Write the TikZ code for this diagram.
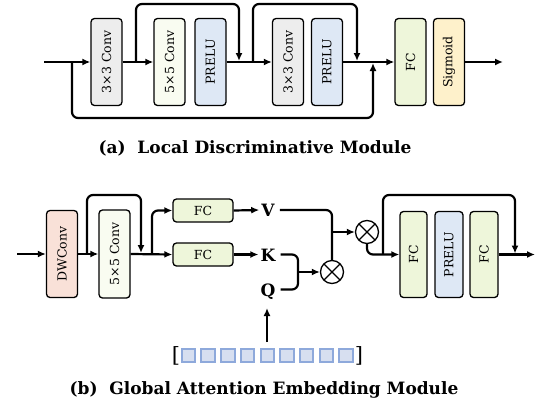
\documentclass[tikz,border=0pt]{standalone}
\usepackage{fontspec}
\setmainfont{DejaVu Serif}
\usetikzlibrary{arrows.meta}
\definecolor{cgray}{HTML}{EDEDED}
\definecolor{cwhite}{HTML}{F9FCF1}
\definecolor{cblue}{HTML}{DEE8F5}
\definecolor{cgreen}{HTML}{EEF6DA}
\definecolor{cyellow}{HTML}{FEF1CB}
\definecolor{csalmon}{HTML}{F9E1D8}
\definecolor{ctok}{HTML}{D7DFF0}
\definecolor{ctokb}{HTML}{8EA9DB}
\tikzset{
  blk/.style={draw=black, line width=1.3pt, rounded corners=3.5pt, minimum width=31pt, minimum height=87pt, inner sep=0pt, font=\fontsize{12.5}{14}\selectfont},
  fcs/.style={draw=black, line width=1.3pt, rounded corners=3.5pt, minimum width=60pt, minimum height=23pt, inner sep=0pt, fill=cgreen, font=\fontsize{12.5}{14}\selectfont},
  vkq/.style={inner sep=2pt, text height=13pt, text depth=0pt, font=\bfseries\fontsize{17}{20}\selectfont},
  otimes/.style={draw=black, circle, line width=1.3pt, minimum size=23pt, inner sep=0pt, fill=white,
    path picture={\draw[line width=1.3pt] (path picture bounding box.north west) -- (path picture bounding box.south east)
      (path picture bounding box.north east) -- (path picture bounding box.south west);}},
  ln/.style={line width=2.2pt, rounded corners=6pt},
  arr/.style={ln, -{Latex[length=8pt,width=7pt]}},
  tok/.style={draw=ctokb, fill=ctok, line width=2pt, minimum size=13.5pt, inner sep=0pt},
  captxt/.style={font=\bfseries\fontsize{17}{20}\selectfont},
}
\begin{document}
\begin{tikzpicture}[x=1pt,y=-1pt]
\useasboundingbox (0,0) rectangle (540,407);
% ---------- (a)
\node[blk, fill=cgray] (a1) at (106.5,62) {\rotatebox{90}{3×3 Conv}};
\node[blk, fill=cwhite] (a2) at (169.5,62) {\rotatebox{90}{5×5 Conv}};
\node[blk, fill=cblue] (a3) at (210.5,62) {\rotatebox{90}{PRELU}};
\node[blk, fill=cgray] (a4) at (288,62) {\rotatebox{90}{3×3 Conv}};
\node[blk, fill=cblue] (a5) at (327,62) {\rotatebox{90}{PRELU}};
\node[blk, fill=cgreen] (a6) at (410.5,62) {\rotatebox{90}{FC}};
\node[blk, fill=cyellow] (a7) at (449,62) {\rotatebox{90}{Sigmoid}};
\coordinate (ain) at (44,62);
\coordinate (aout) at (503,62);
\coordinate (s1a) at (136,62);
\coordinate (s1b) at (239,61);
\coordinate (s2a) at (253,62);
\coordinate (s2b) at (357,61);
\coordinate (l1) at (72,62);
\coordinate (l2) at (373,63);
\draw[arr] (ain) -- (a1.west);
\draw[arr] (a1.east) -- (a2.west);
\draw[arr] (a3.east) -- (a4.west);
\draw[arr] (a5.east) -- (a6.west);
\draw[arr] (a7.east) -- (aout);
\draw[arr] (s1a) -- (136,4) -| (s1b);
\draw[arr] (s2a) -- (253,4) -| (s2b);
\draw[arr] (l1) -- (72,118) -| (l2);
\node[captxt] (capa) at (255,148) {(a)~~Local Discriminative Module};
% ---------- (b)
\node[blk, fill=csalmon] (b1) at (62,254) {\rotatebox{90}{DWConv}};
\node[blk, fill=cwhite, minimum height=88pt] (b2) at (114.5,254) {\rotatebox{90}{5×5 Conv}};
\node[fcs] (b3) at (203,210.5) {FC};
\node[fcs] (b4) at (203,254.5) {FC};
\node[vkq] (v) at (268,210) {V};
\node[vkq] (k) at (268,254.5) {K};
\node[vkq] (q) at (268,289.5) {Q};
\node[otimes] (m1) at (367,232) {};
\node[otimes] (m2) at (332,272) {};
\node[blk, fill=cgreen, minimum width=27pt, minimum height=86pt] (b5) at (413.5,254.5) {\rotatebox{90}{FC}};
\node[blk, fill=cblue, minimum width=28pt, minimum height=86pt] (b6) at (449,254.5) {\rotatebox{90}{PRELU}};
\node[blk, fill=cgreen, minimum width=28pt, minimum height=86pt] (b7) at (484,254.5) {\rotatebox{90}{FC}};
\coordinate (bin) at (17,254);
\coordinate (bs1) at (87,254);
\coordinate (bs2) at (141,253);
\coordinate (br) at (152,254);
\coordinate (vb) at (332,232);
\coordinate (kq) at (298,272);
\coordinate (bs3) at (383,254.5);
\coordinate (bs4) at (515,253.5);
\coordinate (bout) at (535,254.5);
\coordinate (tk) at (267,342);
\coordinate (qin) at (267,308);
\draw[arr] (bin) -- (b1.west);
\draw[arr] (b1.east) -- (b2.west);
\draw[arr] (bs1) -- (87,195) -| (bs2);
\draw[arr] (b2.east) -- (b4.west);
\draw[arr] (br) |- (b3.west);
\draw[arr] (b3.east) -- (v.west);
\draw[arr] (b4.east) -- (k.west);
\draw[ln] ([xshift=3pt]v.east) -| (m2.north);
\draw[arr] (vb) -- (m1.west);
\draw[ln] ([xshift=3pt]k.east) -| (kq) |- ([xshift=3pt]q.east);
\draw[arr] (kq) -- (m2.west);
\draw[arr] (m1.south) |- (b5.west);
\draw[arr] (bs3) -- (383,195) -| (bs4);
\draw[arr] (b7.east) -- (bout);
\draw[arr] (tk) -- (qin);
\foreach \i in {0,...,8} \node[tok] (t\i) at ({188.5+19.7*\i},355.5) {};
\node[font=\fontsize{21}{23}\selectfont, inner sep=0pt] (lb) at (176,356) {[};
\node[font=\fontsize{21}{23}\selectfont, inner sep=0pt] (rb) at (359,356) {]};
\node[captxt] (capb) at (264,390) {(b)~~Global Attention Embedding Module};
\end{tikzpicture}
\end{document}
